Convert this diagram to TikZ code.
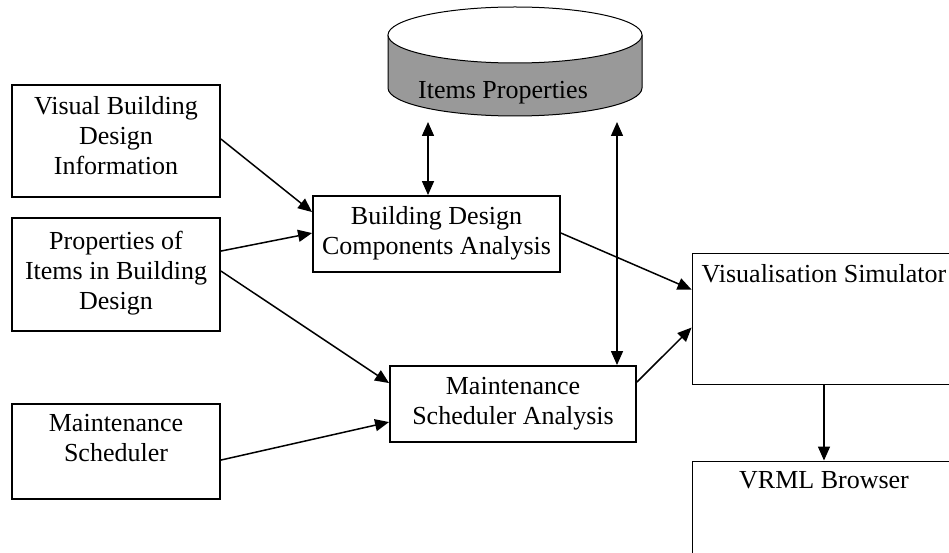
\documentclass[tikz,border=0pt]{standalone}
\usepackage{fontspec}
\setmainfont{Liberation Serif}
\usetikzlibrary{arrows.meta}
\definecolor{dbgray}{RGB}{153,153,153}
\tikzset{
  x=1pt, y=-1pt,
  thickbox/.style={draw, line width=1.9pt, inner sep=0pt},
  thinbox/.style={draw, line width=0.9pt, inner sep=0pt},
  lbl/.style={align=center, inner sep=0pt, anchor=north,
              font=\fontsize{26}{30}\selectfont},
  flow/.style={line width=1.5pt, -{Triangle[length=14pt,width=12pt]}},
  both/.style={line width=1.5pt, {Triangle[length=14pt,width=12pt]}-{Triangle[length=14pt,width=12pt]}}
}
\begin{document}
\begin{tikzpicture}
\useasboundingbox (0,0) rectangle (949,553);
\clip (0,0) rectangle (949,553);

% database cylinder (y axis points down, so the lower half runs 180 -> 0)
\fill[dbgray] (388,35) -- (388,88) arc[start angle=180, end angle=0, x radius=127, y radius=28] -- (642,35) -- cycle;
\draw[line width=1pt] (388,35) -- (388,88) arc[start angle=180, end angle=0, x radius=127, y radius=28] -- (642,35);
\draw[line width=1pt, fill=white] (515,35) ellipse[x radius=127, y radius=28];
\node[inner sep=0pt, minimum width=254pt, minimum height=109pt] (db) at (515,61.5) {};
\node[inner sep=0pt, font=\fontsize{26}{30}\selectfont] (dbtext) at (503,93) {Items Properties};

% input boxes
\node[thickbox, minimum width=208pt, minimum height=112pt] (vbdi) at (116,141) {};
\node[lbl] (vbdit) at ([yshift=-12]vbdi.north) {Visual Building\\Design\\Information};

\node[thickbox, minimum width=208pt, minimum height=113pt] (prop) at (116,274.5) {};
\node[lbl] (propt) at ([yshift=-14]prop.north) {Properties of\\Items in Building\\Design};

\node[thickbox, minimum width=208pt, minimum height=95pt] (ms) at (116,451.5) {};
\node[lbl] (mst) at ([yshift=-11]ms.north) {Maintenance\\Scheduler};

% analysis boxes
\node[thickbox, minimum width=247pt, minimum height=76pt] (bdca) at (436.5,234) {};
\node[lbl] (bdcat) at ([yshift=-11]bdca.north) {Building Design\\Components Analysis};

\node[thickbox, minimum width=246pt, minimum height=76pt] (msa) at (513,404) {};
\node[lbl] (msat) at ([yshift=-12]msa.north) {Maintenance\\Scheduler Analysis};

% output boxes
\node[thinbox, minimum width=264pt, minimum height=131pt] (vs) at (824,318.5) {};
\node[lbl] (vst) at ([yshift=-12]vs.north) {Visualisation Simulator};

\node[thinbox, minimum width=264pt, minimum height=140pt] (vrml) at (824,531) {};
\node[lbl] (vrmlt) at ([yshift=-11]vrml.north) {VRML Browser};

% connector end points under the cylinder
\coordinate (dbl) at (428,122);
\coordinate (dbr) at (617,122);

% connectors
\draw[both] (dbl) -- (dbl |- bdca.north);
\draw[both] (dbr) -- (dbr |- msa.north);
\draw[flow] ([yshift=-55]vbdi.north east) -- ([yshift=-17]bdca.north west);
\draw[flow] ([yshift=-34]prop.north east) -- ([yshift=-38]bdca.north west);
\draw[flow] ([yshift=-54]prop.north east) -- ([yshift=-18]msa.north west);
\draw[flow] ([yshift=-57]ms.north east) -- ([yshift=-57]msa.north west);
\draw[flow] ([yshift=-38]bdca.north east) -- ([yshift=-37]vs.north west);
\draw[flow] ([yshift=-17]msa.north east) -- ([yshift=-75]vs.north west);
\draw[flow] (vs.south) -- (vrml.north);
\end{tikzpicture}
\end{document}
